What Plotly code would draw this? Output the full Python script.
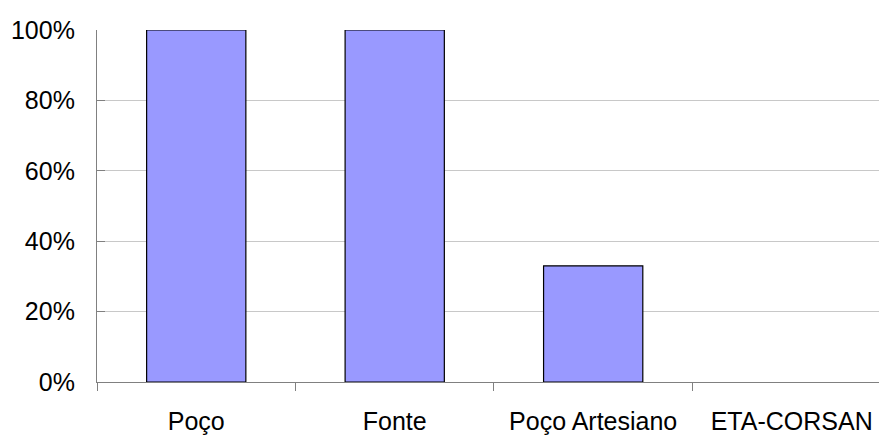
import plotly.graph_objects as go

categories = ["Poço", "Fonte", "Poço Artesiano", "ETA-CORSAN"]
percentages = [100, 100, 33, 0]
y_ticks = [0, 20, 40, 60, 80, 100]
y_tick_labels = ["0%", "20%", "40%", "60%", "80%", "100%"]

# no outline on empty bars so a zero value leaves nothing on the axis
outline_widths = [1.2 if v > 0 else 0 for v in percentages]

fig = go.Figure(
    go.Bar(
        x=categories,
        y=percentages,
        width=0.5,
        marker=dict(color="#9999FF", line=dict(color="#000000", width=outline_widths)),
    )
)

font_family = "Liberation Sans, Arial, sans-serif"

fig.update_layout(
    width=879,
    height=435,
    margin=dict(l=97, r=0, t=30, b=53),
    paper_bgcolor="white",
    plot_bgcolor="white",
    showlegend=False,
    font=dict(family=font_family, size=25, color="#000000"),
)

fig.update_xaxes(
    type="category",
    range=[-0.5, 3.44],
    showgrid=False,
    showline=True,
    linecolor="#808080",
    linewidth=1.2,
    ticks="outside",
    tickson="boundaries",
    ticklen=8,
    tickcolor="#808080",
    tickwidth=1,
    tickfont=dict(size=25),
    ticklabelstandoff=17,
)

fig.update_yaxes(
    range=[0, 100],
    tickvals=y_ticks,
    ticktext=y_tick_labels,
    showgrid=True,
    gridcolor="#C8C8C8",
    gridwidth=1,
    showline=True,
    linecolor="#808080",
    linewidth=1.2,
    ticks="inside",
    ticklen=8,
    tickcolor="#808080",
    tickwidth=1,
    tickfont=dict(size=25),
    ticklabelstandoff=16,
    zeroline=False,
)

fig.write_html("out.html")
